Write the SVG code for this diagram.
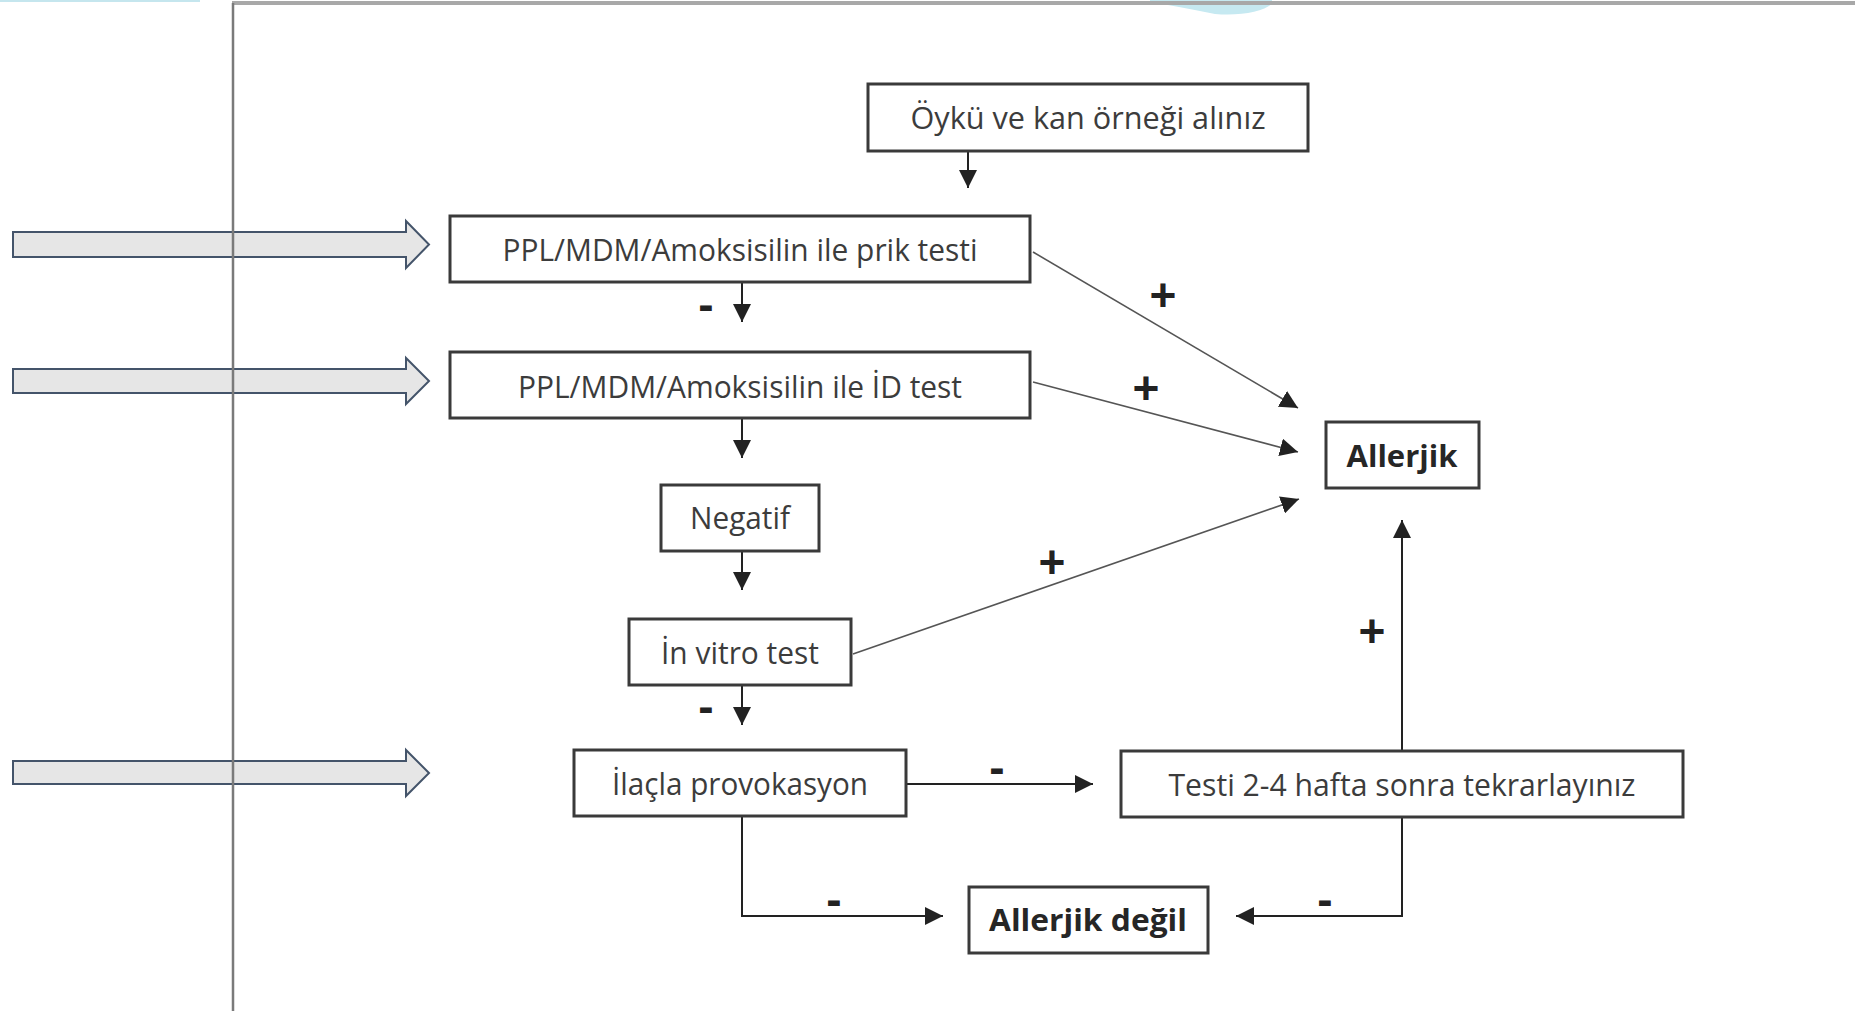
<svg xmlns="http://www.w3.org/2000/svg" width="1855" height="1011" viewBox="0 0 1855 1011">
<style>
.box{fill:#fff;stroke:#3a3a3a;stroke-width:3}
.t{font-family:"Open Sans","Liberation Sans",sans-serif;font-size:31px;fill:#3c3c3c;text-anchor:middle}
.tb{font-family:"Open Sans","Liberation Sans",sans-serif;font-size:31px;font-weight:bold;fill:#262626;text-anchor:middle}
.lbl{font-family:"Liberation Sans","Open Sans",sans-serif;font-size:46px;font-weight:bold;fill:#222;text-anchor:middle}
.c{fill:none;stroke:#222;stroke-width:2;marker-end:url(#ah)}
.d{fill:none;stroke:#555;stroke-width:1.6;marker-end:url(#ah)}
.big{fill:#e6e6e6;stroke:#44546a;stroke-width:2}
</style>
<defs>
<marker id="ah" markerUnits="userSpaceOnUse" viewBox="0 0 16 16" refX="16" refY="8" markerWidth="18" markerHeight="18" orient="auto">
<path d="M0,0 L16,8 L0,16 Z" fill="#222"/>
</marker>
</defs>
<rect width="1855" height="1011" fill="#fff"/>
<g id="frame">
<line x1="0" y1="1" x2="200" y2="1" stroke="#c5e6ee" stroke-width="2"/>
<path d="M1150,2 C1175,6 1195,10 1215,14 C1240,16 1262,12 1272,4 L1272,0 L1150,0 Z" fill="#c6e9f1"/>
<line x1="232" y1="3" x2="1855" y2="3" stroke="#a8a8a8" stroke-width="4"/>
</g>
<g id="side-arrows">
<path class="big" d="M13,232 H406 V221 L429,244.5 L406,268 V257 H13 Z"/>
<path class="big" d="M13,369 H406 V358 L429,381 L406,404 V393 H13 Z"/>
<path class="big" d="M13,761 H406 V750 L429,773 L406,796 V784 H13 Z"/>
</g>
<line x1="233" y1="3" x2="233" y2="1011" stroke="#7a7a7a" stroke-width="2.5"/>
<g id="connectors">
<line class="c" x1="968" y1="151" x2="968" y2="188"/>
<line class="c" x1="742" y1="282" x2="742" y2="322"/>
<line class="c" x1="742" y1="418" x2="742" y2="458"/>
<line class="c" x1="742" y1="551" x2="742" y2="590"/>
<line class="c" x1="742" y1="685" x2="742" y2="725"/>
<line class="d" x1="1033" y1="252" x2="1298" y2="408"/>
<line class="d" x1="1033" y1="382" x2="1298" y2="452"/>
<line class="d" x1="853" y1="654" x2="1299" y2="499"/>
<line class="c" x1="906" y1="784" x2="1093" y2="784"/>
<polyline class="c" points="742,816 742,916 943,916"/>
<polyline class="c" points="1402,817 1402,916 1236,916"/>
<line class="c" x1="1402" y1="751" x2="1402" y2="520"/>
<text class="lbl" x="706" y="320">-</text>
<text class="lbl" x="706" y="722">-</text>
<text class="lbl" x="1163" y="311">+</text>
<text class="lbl" x="1146" y="404">+</text>
<text class="lbl" x="1052" y="578">+</text>
<text class="lbl" x="997" y="783">-</text>
<text class="lbl" x="834" y="915">-</text>
<text class="lbl" x="1325" y="915">-</text>
<text class="lbl" x="1372" y="647">+</text>
</g>
<g id="n1"><rect class="box" x="868" y="84" width="440" height="67"/><text class="t" x="1088" y="129" textLength="355" lengthAdjust="spacingAndGlyphs">Öykü ve kan örneği alınız</text></g>
<g id="n2"><rect class="box" x="450" y="216" width="580" height="66"/><text class="t" x="740" y="261" textLength="475" lengthAdjust="spacingAndGlyphs">PPL/MDM/Amoksisilin ile prik testi</text></g>
<g id="n3"><rect class="box" x="450" y="352" width="580" height="66"/><text class="t" x="740" y="398" textLength="444" lengthAdjust="spacingAndGlyphs">PPL/MDM/Amoksisilin ile İD test</text></g>
<g id="n4"><rect class="box" x="661" y="485" width="158" height="66"/><text class="t" x="740" y="529" textLength="100" lengthAdjust="spacingAndGlyphs">Negatif</text></g>
<g id="n5"><rect class="box" x="629" y="619" width="222" height="66"/><text class="t" x="740" y="664" textLength="158" lengthAdjust="spacingAndGlyphs">İn vitro test</text></g>
<g id="n6"><rect class="box" x="574" y="750" width="332" height="66"/><text class="t" x="740" y="795" textLength="256" lengthAdjust="spacingAndGlyphs">İlaçla provokasyon</text></g>
<g id="n7"><rect class="box" x="1121" y="751" width="562" height="66"/><text class="t" x="1402" y="796" textLength="467" lengthAdjust="spacingAndGlyphs">Testi 2-4 hafta sonra tekrarlayınız</text></g>
<g id="n8"><rect class="box" x="969" y="887" width="239" height="66"/><text class="tb" x="1088" y="931" textLength="198" lengthAdjust="spacingAndGlyphs">Allerjik değil</text></g>
<g id="n9"><rect class="box" x="1326" y="422" width="153" height="66"/><text class="tb" x="1402" y="467" textLength="111" lengthAdjust="spacingAndGlyphs">Allerjik</text></g>
</svg>
